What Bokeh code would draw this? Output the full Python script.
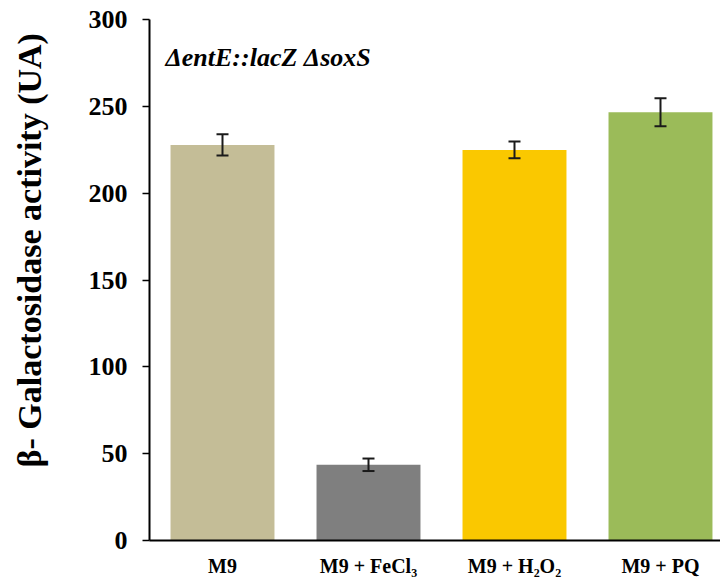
from bokeh.plotting import figure
from bokeh.models import ColumnDataSource, Whisker, TeeHead, FixedTicker, Label, Range1d
from bokeh.embed import file_html
from bokeh.resources import INLINE

categories = ["M9", "M9 + FeCl₃", "M9 + H₂O₂", "M9 + PQ"]
values = [227.8, 43.6, 224.9, 246.6]
errors = [6.1, 3.6, 4.8, 8.0]
colors = ["#C4BD97", "#7F7F7F", "#FAC800", "#9BBB59"]
y_ticks = [0, 50, 100, 150, 200, 250, 300]

xs = [i + 0.5 for i in range(len(categories))]
src = ColumnDataSource(dict(
    x=xs, top=values, color=colors,
    upper=[v + e for v, e in zip(values, errors)],
    lower=[v - e for v, e in zip(values, errors)],
))

FONT = "Liberation Serif"

p = figure(width=720, height=581, output_backend="svg", toolbar_location=None,
           x_range=Range1d(0, 3.911), y_range=Range1d(0, 300),
           min_border_left=149, min_border_right=0, min_border_top=19,
           min_border_bottom=41)
p.outline_line_color = None
p.xgrid.visible = False
p.ygrid.visible = False

p.vbar(x="x", top="top", width=0.712, bottom=0, fill_color="color",
       line_color=None, source=src)

w = Whisker(base="x", upper="upper", lower="lower", source=src,
            line_color="#1a1a1a", line_width=2, level="overlay",
            upper_head=TeeHead(size=12, line_color="#1a1a1a", line_width=2),
            lower_head=TeeHead(size=12, line_color="#1a1a1a", line_width=2))
p.add_layout(w)

# axes
p.xaxis.ticker = FixedTicker(ticks=xs)
p.xaxis.major_label_overrides = {x: c for x, c in zip(xs, categories)}
p.xaxis.major_tick_line_color = None
p.xaxis.minor_tick_line_color = None
p.xaxis.axis_line_color = "black"
p.xaxis.axis_line_width = 2
p.xaxis.major_label_text_font = FONT
p.xaxis.major_label_text_font_style = "bold"
p.xaxis.major_label_text_font_size = "20px"
p.xaxis.major_label_text_color = "black"
p.xaxis.major_label_standoff = 8

p.yaxis.ticker = FixedTicker(ticks=y_ticks)
p.yaxis.minor_tick_line_color = None
p.yaxis.major_tick_in = 0
p.yaxis.major_tick_out = 7
p.yaxis.major_tick_line_color = "black"
p.yaxis.major_tick_line_width = 1.5
p.yaxis.axis_line_color = "black"
p.yaxis.axis_line_width = 2
p.yaxis.major_label_text_font = FONT
p.yaxis.major_label_text_font_style = "bold"
p.yaxis.major_label_text_font_size = "26px"
p.yaxis.major_label_text_color = "black"
p.yaxis.major_label_standoff = 15
# leading no-break spaces shift the centred label up, as in the reference
p.yaxis.axis_label = "\u00a0" * 7 + "β- Galactosidase activity (UA)"
p.yaxis.axis_label_text_font = FONT
p.yaxis.axis_label_text_font_style = "bold"
p.yaxis.axis_label_text_font_size = "34px"
p.yaxis.axis_label_text_color = "black"
p.yaxis.axis_label_standoff = 38

title = Label(x=16, y=483, x_units="screen", y_units="screen",
              text="ΔentE::lacZ ΔsoxS", text_font=FONT,
              text_font_style="bold italic", text_font_size="26px",
              text_color="black", text_baseline="alphabetic")
p.add_layout(title)

open("out.html", "w").write(file_html(p, INLINE))
